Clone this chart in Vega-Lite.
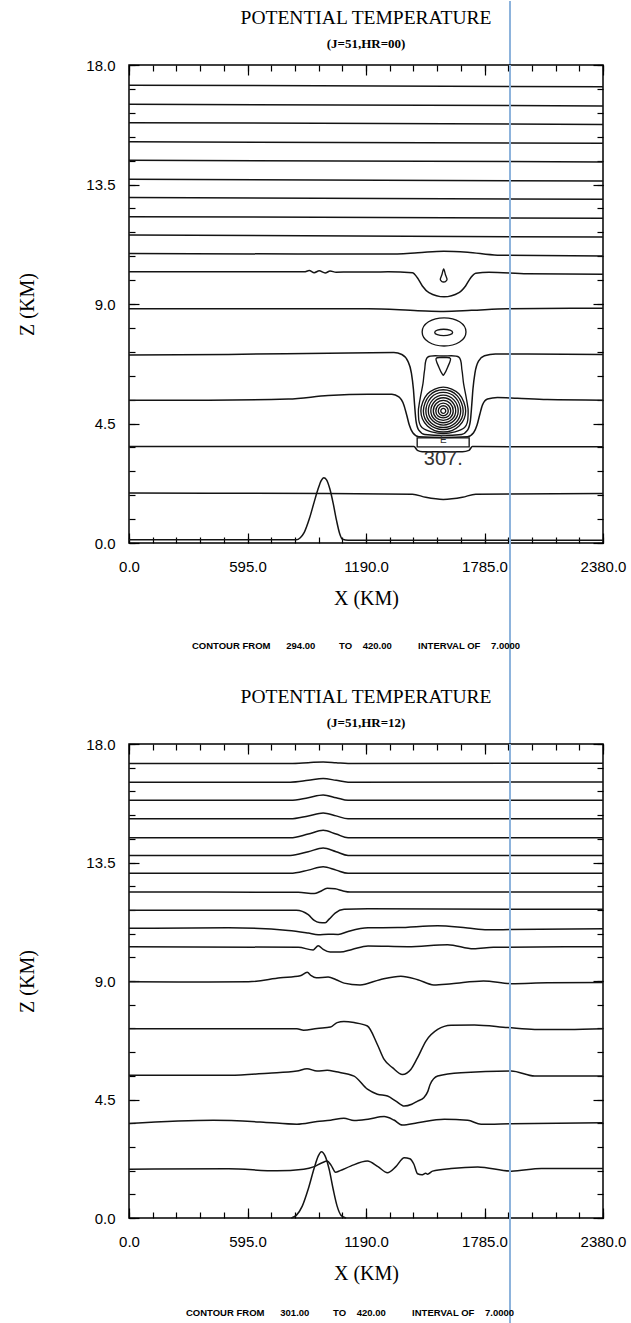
{
  "$schema": "https://vega.github.io/schema/vega-lite/v6.json",
  "background": "white",
  "padding": {"left": 17, "top": 0, "right": 0, "bottom": 0},
  "config": {
    "view": {"stroke": "black", "strokeWidth": 1.5},
    "axis": {"domain": false, "grid": false, "labelColor": "black", "titleColor": "black", "tickColor": "black", "tickWidth": 1.2},
    "title": {"color": "black"}
  },
  "datasets": {
    "top_open": [
      {"c":"t17","x":0,"z":17.24},{"c":"t17","x":2380,"z":17.18},
      {"c":"t16","x":0,"z":16.52},{"c":"t16","x":2380,"z":16.46},
      {"c":"t15","x":0,"z":15.83},{"c":"t15","x":2380,"z":15.76},
      {"c":"t15b","x":0,"z":15.11},{"c":"t15b","x":2380,"z":15.05},
      {"c":"t14","x":0,"z":14.41},{"c":"t14","x":2380,"z":14.35},
      {"c":"t13","x":0,"z":13.70},{"c":"t13","x":2380,"z":13.63},
      {"c":"t13b","x":0,"z":13.01},{"c":"t13b","x":2380,"z":12.94},
      {"c":"t12","x":0,"z":12.29},{"c":"t12","x":2380,"z":12.23},
      {"c":"t11","x":0,"z":11.60},{"c":"t11","x":2380,"z":11.52},
      {"c":"t10b","x":0,"z":10.90},{"c":"t10b","x":1300,"z":10.88},{"c":"t10b","x":1450,"z":10.93},{"c":"t10b","x":1580,"z":10.99},{"c":"t10b","x":1700,"z":10.95},{"c":"t10b","x":1850,"z":10.84},{"c":"t10b","x":2380,"z":10.81},
      {"c":"t10","x":0,"z":10.21},{"c":"t10","x":880,"z":10.21},{"c":"t10","x":905,"z":10.26},{"c":"t10","x":930,"z":10.18},{"c":"t10","x":955,"z":10.25},{"c":"t10","x":985,"z":10.17},{"c":"t10","x":1010,"z":10.24},{"c":"t10","x":1040,"z":10.2},{"c":"t10","x":1300,"z":10.21},{"c":"t10","x":1423,"z":10.18},{"c":"t10","x":1448,"z":9.99},{"c":"t10","x":1473,"z":9.68},{"c":"t10","x":1506,"z":9.43},{"c":"t10","x":1582,"z":9.27},{"c":"t10","x":1657,"z":9.43},{"c":"t10","x":1690,"z":9.68},{"c":"t10","x":1716,"z":9.99},{"c":"t10","x":1741,"z":10.16},{"c":"t10","x":1808,"z":10.2},{"c":"t10","x":2000,"z":10.14},{"c":"t10","x":2380,"z":10.12},
      {"c":"t8","x":0,"z":8.82},{"c":"t8","x":1200,"z":8.82},{"c":"t8","x":1450,"z":8.75},{"c":"t8","x":1580,"z":8.72},{"c":"t8","x":1720,"z":8.76},{"c":"t8","x":1900,"z":8.82},{"c":"t8","x":2380,"z":8.84},
      {"c":"t7","x":0,"z":7.08},{"c":"t7","x":500,"z":7.1},{"c":"t7","x":1000,"z":7.15},{"c":"t7","x":1330,"z":7.17},{"c":"t7","x":1370,"z":7.1},{"c":"t7","x":1400,"z":6.85},{"c":"t7","x":1418,"z":6.4},{"c":"t7","x":1428,"z":5.8},{"c":"t7","x":1434,"z":5.2},{"c":"t7","x":1441,"z":4.6},{"c":"t7","x":1455,"z":4.25},{"c":"t7","x":1485,"z":4.09},{"c":"t7","x":1578,"z":4.05},{"c":"t7","x":1670,"z":4.09},{"c":"t7","x":1700,"z":4.25},{"c":"t7","x":1714,"z":4.6},{"c":"t7","x":1721,"z":5.2},{"c":"t7","x":1727,"z":5.8},{"c":"t7","x":1737,"z":6.4},{"c":"t7","x":1755,"z":6.85},{"c":"t7","x":1785,"z":7.05},{"c":"t7","x":1840,"z":7.12},{"c":"t7","x":2000,"z":7.12},{"c":"t7","x":2380,"z":7.1},
      {"c":"t5","x":0,"z":5.38},{"c":"t5","x":400,"z":5.38},{"c":"t5","x":800,"z":5.42},{"c":"t5","x":1000,"z":5.55},{"c":"t5","x":1200,"z":5.6},{"c":"t5","x":1320,"z":5.6},{"c":"t5","x":1355,"z":5.5},{"c":"t5","x":1380,"z":5.2},{"c":"t5","x":1395,"z":4.8},{"c":"t5","x":1407,"z":4.45},{"c":"t5","x":1425,"z":4.15},{"c":"t5","x":1455,"z":4.0},{"c":"t5","x":1578,"z":3.97},{"c":"t5","x":1700,"z":4.0},{"c":"t5","x":1730,"z":4.15},{"c":"t5","x":1748,"z":4.45},{"c":"t5","x":1760,"z":4.8},{"c":"t5","x":1775,"z":5.2},{"c":"t5","x":1800,"z":5.42},{"c":"t5","x":1850,"z":5.48},{"c":"t5","x":1950,"z":5.45},{"c":"t5","x":2100,"z":5.4},{"c":"t5","x":2380,"z":5.38},
      {"c":"t3","x":0,"z":3.63},{"c":"t3","x":1000,"z":3.63},{"c":"t3","x":1431,"z":3.63},{"c":"t3","x":1448,"z":3.49},{"c":"t3","x":1473,"z":3.44},{"c":"t3","x":1674,"z":3.44},{"c":"t3","x":1707,"z":3.49},{"c":"t3","x":1724,"z":3.63},{"c":"t3","x":2380,"z":3.62},
      {"c":"t1","x":0,"z":1.88},{"c":"t1","x":1000,"z":1.86},{"c":"t1","x":1423,"z":1.84},{"c":"t1","x":1490,"z":1.72},{"c":"t1","x":1578,"z":1.64},{"c":"t1","x":1674,"z":1.72},{"c":"t1","x":1741,"z":1.84},{"c":"t1","x":2380,"z":1.86},
      {"c":"g","x":0,"z":0.12},{"c":"g","x":840,"z":0.12},{"c":"g","x":860,"z":0.2},{"c":"g","x":880,"z":0.4},{"c":"g","x":905,"z":0.9},{"c":"g","x":930,"z":1.55},{"c":"g","x":950,"z":2.05},{"c":"g","x":965,"z":2.35},{"c":"g","x":978,"z":2.46},{"c":"g","x":992,"z":2.38},{"c":"g","x":1008,"z":2.05},{"c":"g","x":1025,"z":1.5},{"c":"g","x":1042,"z":0.85},{"c":"g","x":1058,"z":0.35},{"c":"g","x":1072,"z":0.14},{"c":"g","x":1100,"z":0.1},{"c":"g","x":2380,"z":0.1}
    ],
    "top_closed": [
      {"c":"td","o":0,"x":1580,"z":10.32},{"c":"td","o":1,"x":1589,"z":10.1},{"c":"td","o":2,"x":1597,"z":9.93},{"c":"td","o":3,"x":1590,"z":9.85},{"c":"td","o":4,"x":1580,"z":9.83},{"c":"td","o":5,"x":1570,"z":9.85},{"c":"td","o":6,"x":1563,"z":9.93},{"c":"td","o":7,"x":1571,"z":10.1},
      {"c":"e1","o":0,"x":1692,"z":7.95},{"c":"e1","o":1,"x":1660,"z":8.33},{"c":"e1","o":2,"x":1582,"z":8.48},{"c":"e1","o":3,"x":1504,"z":8.33},{"c":"e1","o":4,"x":1472,"z":7.95},{"c":"e1","o":5,"x":1504,"z":7.57},{"c":"e1","o":6,"x":1582,"z":7.42},{"c":"e1","o":7,"x":1660,"z":7.57},
      {"c":"e2","o":0,"x":1625,"z":7.93},{"c":"e2","o":1,"x":1612,"z":8.015},{"c":"e2","o":2,"x":1580,"z":8.05},{"c":"e2","o":3,"x":1548,"z":8.015},{"c":"e2","o":4,"x":1535,"z":7.93},{"c":"e2","o":5,"x":1548,"z":7.845},{"c":"e2","o":6,"x":1580,"z":7.81},{"c":"e2","o":7,"x":1612,"z":7.845},
      {"c":"tri","o":0,"x":1542,"z":6.95},{"c":"tri","o":1,"x":1578,"z":6.98},{"c":"tri","o":2,"x":1614,"z":6.95},{"c":"tri","o":3,"x":1600,"z":6.62},{"c":"tri","o":4,"x":1582,"z":6.35},{"c":"tri","o":5,"x":1574,"z":6.35},{"c":"tri","o":6,"x":1556,"z":6.62},
      {"c":"bt","o":0,"x":1500,"z":7.0},{"c":"bt","o":1,"x":1578,"z":7.04},{"c":"bt","o":2,"x":1656,"z":7.0},{"c":"bt","o":3,"x":1672,"z":6.5},{"c":"bt","o":4,"x":1680,"z":6.0},{"c":"bt","o":5,"x":1695,"z":5.4},{"c":"bt","o":6,"x":1703,"z":4.9},{"c":"bt","o":7,"x":1685,"z":4.35},{"c":"bt","o":8,"x":1578,"z":4.12},{"c":"bt","o":9,"x":1471,"z":4.35},{"c":"bt","o":10,"x":1453,"z":4.9},{"c":"bt","o":11,"x":1461,"z":5.4},{"c":"bt","o":12,"x":1476,"z":6.0},{"c":"bt","o":13,"x":1484,"z":6.5},
      {"c":"r1","o":0,"x":1590.5,"z":4.97},{"c":"r1","o":1,"x":1586.8,"z":5.04},{"c":"r1","o":2,"x":1578,"z":5.07},{"c":"r1","o":3,"x":1569.2,"z":5.04},{"c":"r1","o":4,"x":1565.5,"z":4.97},{"c":"r1","o":5,"x":1569.2,"z":4.91},{"c":"r1","o":6,"x":1578,"z":4.88},{"c":"r1","o":7,"x":1586.8,"z":4.91},
      {"c":"r2","o":0,"x":1603,"z":4.97},{"c":"r2","o":1,"x":1595.7,"z":5.11},{"c":"r2","o":2,"x":1578,"z":5.17},{"c":"r2","o":3,"x":1560.3,"z":5.11},{"c":"r2","o":4,"x":1553,"z":4.97},{"c":"r2","o":5,"x":1560.3,"z":4.85},{"c":"r2","o":6,"x":1578,"z":4.79},{"c":"r2","o":7,"x":1595.7,"z":4.85},
      {"c":"r3","o":0,"x":1615.5,"z":4.97},{"c":"r3","o":1,"x":1604.5,"z":5.18},{"c":"r3","o":2,"x":1578,"z":5.27},{"c":"r3","o":3,"x":1551.5,"z":5.18},{"c":"r3","o":4,"x":1540.5,"z":4.97},{"c":"r3","o":5,"x":1551.5,"z":4.78},{"c":"r3","o":6,"x":1578,"z":4.71},{"c":"r3","o":7,"x":1604.5,"z":4.78},
      {"c":"r4","o":0,"x":1628,"z":4.97},{"c":"r4","o":1,"x":1613.4,"z":5.25},{"c":"r4","o":2,"x":1578,"z":5.37},{"c":"r4","o":3,"x":1542.6,"z":5.25},{"c":"r4","o":4,"x":1528,"z":4.97},{"c":"r4","o":5,"x":1542.6,"z":4.72},{"c":"r4","o":6,"x":1578,"z":4.62},{"c":"r4","o":7,"x":1613.4,"z":4.72},
      {"c":"r5","o":0,"x":1640.5,"z":4.97},{"c":"r5","o":1,"x":1622.2,"z":5.32},{"c":"r5","o":2,"x":1578,"z":5.47},{"c":"r5","o":3,"x":1533.8,"z":5.32},{"c":"r5","o":4,"x":1515.5,"z":4.97},{"c":"r5","o":5,"x":1533.8,"z":4.66},{"c":"r5","o":6,"x":1578,"z":4.53},{"c":"r5","o":7,"x":1622.2,"z":4.66},
      {"c":"r6","o":0,"x":1653,"z":4.97},{"c":"r6","o":1,"x":1631,"z":5.39},{"c":"r6","o":2,"x":1578,"z":5.57},{"c":"r6","o":3,"x":1525,"z":5.39},{"c":"r6","o":4,"x":1503,"z":4.97},{"c":"r6","o":5,"x":1525,"z":4.6},{"c":"r6","o":6,"x":1578,"z":4.44},{"c":"r6","o":7,"x":1631,"z":4.6},
      {"c":"r7","o":0,"x":1665.5,"z":4.97},{"c":"r7","o":1,"x":1639.9,"z":5.47},{"c":"r7","o":2,"x":1578,"z":5.67},{"c":"r7","o":3,"x":1516.1,"z":5.47},{"c":"r7","o":4,"x":1490.5,"z":4.97},{"c":"r7","o":5,"x":1516.1,"z":4.53},{"c":"r7","o":6,"x":1578,"z":4.35},{"c":"r7","o":7,"x":1639.9,"z":4.53},
      {"c":"r8","o":0,"x":1678,"z":4.97},{"c":"r8","o":1,"x":1648.7,"z":5.54},{"c":"r8","o":2,"x":1578,"z":5.77},{"c":"r8","o":3,"x":1507.3,"z":5.54},{"c":"r8","o":4,"x":1478,"z":4.97},{"c":"r8","o":5,"x":1507.3,"z":4.47},{"c":"r8","o":6,"x":1578,"z":4.27},{"c":"r8","o":7,"x":1648.7,"z":4.47},
      {"c":"r9","o":0,"x":1690.5,"z":4.97},{"c":"r9","o":1,"x":1657.5,"z":5.61},{"c":"r9","o":2,"x":1578,"z":5.87},{"c":"r9","o":3,"x":1498.5,"z":5.61},{"c":"r9","o":4,"x":1465.5,"z":4.97},{"c":"r9","o":5,"x":1498.5,"z":4.41},{"c":"r9","o":6,"x":1578,"z":4.18},{"c":"r9","o":7,"x":1657.5,"z":4.41}
    ],
    "top_box": [{"x":1447,"x2":1708,"z":3.62,"z2":3.96}],
    "top_labels": [{"x":1578,"z":3.18,"label":"307.","s":"big"},{"x":1578,"z":3.88,"label":"E","s":"small"}],
    "blue": [{"x":1913}],
    "bot_open": [
      {"c":"b17","x":0,"z":17.26},{"c":"b17","x":810,"z":17.26},{"c":"b17","x":900,"z":17.29},{"c":"b17","x":975,"z":17.32},{"c":"b17","x":1040,"z":17.29},{"c":"b17","x":1100,"z":17.26},{"c":"b17","x":2380,"z":17.27},
      {"c":"b16","x":0,"z":16.55},{"c":"b16","x":810,"z":16.55},{"c":"b16","x":900,"z":16.62},{"c":"b16","x":975,"z":16.69},{"c":"b16","x":1040,"z":16.62},{"c":"b16","x":1100,"z":16.55},{"c":"b16","x":2380,"z":16.56},
      {"c":"b15","x":0,"z":15.86},{"c":"b15","x":810,"z":15.86},{"c":"b15","x":900,"z":15.96},{"c":"b15","x":975,"z":16.06},{"c":"b15","x":1040,"z":15.96},{"c":"b15","x":1100,"z":15.86},{"c":"b15","x":2380,"z":15.86},
      {"c":"b15b","x":0,"z":15.16},{"c":"b15b","x":810,"z":15.16},{"c":"b15b","x":900,"z":15.27},{"c":"b15b","x":975,"z":15.38},{"c":"b15b","x":1040,"z":15.27},{"c":"b15b","x":1100,"z":15.16},{"c":"b15b","x":2380,"z":15.16},
      {"c":"b14","x":0,"z":14.44},{"c":"b14","x":810,"z":14.44},{"c":"b14","x":900,"z":14.58},{"c":"b14","x":975,"z":14.72},{"c":"b14","x":1040,"z":14.58},{"c":"b14","x":1100,"z":14.44},{"c":"b14","x":2380,"z":14.44},
      {"c":"b13","x":0,"z":13.77},{"c":"b13","x":810,"z":13.77},{"c":"b13","x":900,"z":13.91},{"c":"b13","x":975,"z":14.05},{"c":"b13","x":1040,"z":13.91},{"c":"b13","x":1100,"z":13.77},{"c":"b13","x":2380,"z":13.77},
      {"c":"b13b","x":0,"z":13.09},{"c":"b13b","x":810,"z":13.09},{"c":"b13b","x":900,"z":13.21},{"c":"b13b","x":975,"z":13.34},{"c":"b13b","x":1040,"z":13.21},{"c":"b13b","x":1100,"z":13.09},{"c":"b13b","x":2380,"z":13.09},
      {"c":"b12","x":0,"z":12.38},{"c":"b12","x":850,"z":12.37},{"c":"b12","x":930,"z":12.32},{"c":"b12","x":960,"z":12.4},{"c":"b12","x":995,"z":12.52},{"c":"b12","x":1035,"z":12.5},{"c":"b12","x":1075,"z":12.42},{"c":"b12","x":1110,"z":12.38},{"c":"b12","x":2380,"z":12.38},
      {"c":"b11","x":0,"z":11.69},{"c":"b11","x":840,"z":11.69},{"c":"b11","x":900,"z":11.52},{"c":"b11","x":930,"z":11.3},{"c":"b11","x":955,"z":11.22},{"c":"b11","x":985,"z":11.21},{"c":"b11","x":1005,"z":11.35},{"c":"b11","x":1035,"z":11.58},{"c":"b11","x":1080,"z":11.72},{"c":"b11","x":1200,"z":11.74},{"c":"b11","x":2380,"z":11.72},
      {"c":"b11b","x":0,"z":11.0},{"c":"b11b","x":500,"z":11.02},{"c":"b11b","x":800,"z":10.92},{"c":"b11b","x":900,"z":10.82},{"c":"b11b","x":950,"z":10.76},{"c":"b11b","x":1000,"z":10.78},{"c":"b11b","x":1050,"z":10.77},{"c":"b11b","x":1100,"z":10.88},{"c":"b11b","x":1200,"z":11.02},{"c":"b11b","x":1350,"z":11.03},{"c":"b11b","x":1550,"z":11.1},{"c":"b11b","x":1700,"z":11.01},{"c":"b11b","x":1800,"z":10.95},{"c":"b11b","x":2380,"z":10.98},
      {"c":"b10","x":0,"z":10.3},{"c":"b10","x":850,"z":10.28},{"c":"b10","x":925,"z":10.18},{"c":"b10","x":950,"z":10.34},{"c":"b10","x":975,"z":10.2},{"c":"b10","x":1010,"z":10.1},{"c":"b10","x":1060,"z":10.1},{"c":"b10","x":1120,"z":10.2},{"c":"b10","x":1200,"z":10.33},{"c":"b10","x":1400,"z":10.3},{"c":"b10","x":1600,"z":10.38},{"c":"b10","x":1730,"z":10.22},{"c":"b10","x":1830,"z":10.28},{"c":"b10","x":2380,"z":10.3},
      {"c":"b9","x":0,"z":8.97},{"c":"b9","x":400,"z":8.96},{"c":"b9","x":600,"z":8.97},{"c":"b9","x":760,"z":9.12},{"c":"b9","x":860,"z":9.2},{"c":"b9","x":895,"z":9.33},{"c":"b9","x":915,"z":9.2},{"c":"b9","x":940,"z":9.12},{"c":"b9","x":1000,"z":9.15},{"c":"b9","x":1040,"z":9.05},{"c":"b9","x":1080,"z":8.92},{"c":"b9","x":1160,"z":8.85},{"c":"b9","x":1260,"z":9.05},{"c":"b9","x":1365,"z":9.18},{"c":"b9","x":1450,"z":9.05},{"c":"b9","x":1530,"z":8.85},{"c":"b9","x":1620,"z":8.9},{"c":"b9","x":1780,"z":9.0},{"c":"b9","x":1920,"z":8.9},{"c":"b9","x":2100,"z":8.93},{"c":"b9","x":2380,"z":8.94},
      {"c":"b7","x":0,"z":7.19},{"c":"b7","x":843,"z":7.19},{"c":"b7","x":877,"z":7.13},{"c":"b7","x":944,"z":7.2},{"c":"b7","x":1012,"z":7.25},{"c":"b7","x":1045,"z":7.42},{"c":"b7","x":1079,"z":7.46},{"c":"b7","x":1130,"z":7.42},{"c":"b7","x":1197,"z":7.29},{"c":"b7","x":1247,"z":6.59},{"c":"b7","x":1281,"z":6.02},{"c":"b7","x":1323,"z":5.71},{"c":"b7","x":1373,"z":5.45},{"c":"b7","x":1415,"z":5.64},{"c":"b7","x":1449,"z":6.09},{"c":"b7","x":1491,"z":6.72},{"c":"b7","x":1550,"z":7.16},{"c":"b7","x":1617,"z":7.32},{"c":"b7","x":1734,"z":7.33},{"c":"b7","x":1903,"z":7.23},{"c":"b7","x":2037,"z":7.16},{"c":"b7","x":2205,"z":7.16},{"c":"b7","x":2380,"z":7.19},
      {"c":"b5","x":0,"z":5.42},{"c":"b5","x":507,"z":5.42},{"c":"b5","x":700,"z":5.5},{"c":"b5","x":843,"z":5.58},{"c":"b5","x":894,"z":5.67},{"c":"b5","x":944,"z":5.58},{"c":"b5","x":995,"z":5.61},{"c":"b5","x":1040,"z":5.55},{"c":"b5","x":1130,"z":5.39},{"c":"b5","x":1197,"z":4.89},{"c":"b5","x":1247,"z":4.7},{"c":"b5","x":1298,"z":4.63},{"c":"b5","x":1340,"z":4.44},{"c":"b5","x":1382,"z":4.25},{"c":"b5","x":1420,"z":4.32},{"c":"b5","x":1449,"z":4.44},{"c":"b5","x":1480,"z":4.57},{"c":"b5","x":1500,"z":4.8},{"c":"b5","x":1512,"z":5.07},{"c":"b5","x":1550,"z":5.39},{"c":"b5","x":1667,"z":5.52},{"c":"b5","x":1919,"z":5.58},{"c":"b5","x":2037,"z":5.39},{"c":"b5","x":2380,"z":5.39},
      {"c":"b3","x":0,"z":3.59},{"c":"b3","x":423,"z":3.71},{"c":"b3","x":676,"z":3.64},{"c":"b3","x":843,"z":3.56},{"c":"b3","x":944,"z":3.66},{"c":"b3","x":1012,"z":3.71},{"c":"b3","x":1079,"z":3.79},{"c":"b3","x":1130,"z":3.7},{"c":"b3","x":1200,"z":3.75},{"c":"b3","x":1281,"z":3.85},{"c":"b3","x":1330,"z":3.72},{"c":"b3","x":1373,"z":3.53},{"c":"b3","x":1449,"z":3.62},{"c":"b3","x":1583,"z":3.75},{"c":"b3","x":1701,"z":3.71},{"c":"b3","x":1768,"z":3.56},{"c":"b3","x":1919,"z":3.58},{"c":"b3","x":2380,"z":3.62},
      {"c":"b1","x":0,"z":1.85},{"c":"b1","x":500,"z":1.87},{"c":"b1","x":743,"z":1.79},{"c":"b1","x":877,"z":1.85},{"c":"b1","x":930,"z":1.95},{"c":"b1","x":970,"z":2.1},{"c":"b1","x":995,"z":2.16},{"c":"b1","x":1015,"z":2.0},{"c":"b1","x":1037,"z":1.74},{"c":"b1","x":1060,"z":1.8},{"c":"b1","x":1113,"z":1.97},{"c":"b1","x":1197,"z":2.16},{"c":"b1","x":1250,"z":1.95},{"c":"b1","x":1298,"z":1.72},{"c":"b1","x":1340,"z":1.95},{"c":"b1","x":1382,"z":2.29},{"c":"b1","x":1410,"z":2.25},{"c":"b1","x":1430,"z":2.05},{"c":"b1","x":1449,"z":1.68},{"c":"b1","x":1470,"z":1.64},{"c":"b1","x":1490,"z":1.7},{"c":"b1","x":1499,"z":1.66},{"c":"b1","x":1524,"z":1.78},{"c":"b1","x":1617,"z":1.88},{"c":"b1","x":1751,"z":1.94},{"c":"b1","x":1919,"z":1.78},{"c":"b1","x":2071,"z":1.88},{"c":"b1","x":2380,"z":1.88},
      {"c":"bm","x":815,"z":0.0},{"c":"bm","x":840,"z":0.1},{"c":"bm","x":870,"z":0.45},{"c":"bm","x":900,"z":1.1},{"c":"bm","x":930,"z":1.9},{"c":"bm","x":950,"z":2.35},{"c":"bm","x":966,"z":2.52},{"c":"bm","x":985,"z":2.35},{"c":"bm","x":1005,"z":1.85},{"c":"bm","x":1025,"z":1.1},{"c":"bm","x":1045,"z":0.45},{"c":"bm","x":1065,"z":0.1},{"c":"bm","x":1090,"z":0.0}
    ],
    "note_top": [{"note":"CONTOUR FROM\u00a0\u00a0\u00a0\u00a0\u00a0\u00a0294.00\u00a0\u00a0\u00a0\u00a0\u00a0\u00a0\u00a0\u00a0\u00a0TO\u00a0\u00a0\u00a0\u00a0420.00\u00a0\u00a0\u00a0\u00a0\u00a0\u00a0\u00a0\u00a0\u00a0\u00a0INTERVAL OF\u00a0\u00a0\u00a0\u00a07.0000"}],
    "note_bot": [{"note":"CONTOUR FROM\u00a0\u00a0\u00a0\u00a0\u00a0\u00a0301.00\u00a0\u00a0\u00a0\u00a0\u00a0\u00a0\u00a0\u00a0\u00a0TO\u00a0\u00a0\u00a0\u00a0420.00\u00a0\u00a0\u00a0\u00a0\u00a0\u00a0\u00a0\u00a0\u00a0\u00a0INTERVAL OF\u00a0\u00a0\u00a0\u00a07.0000"}]
  },
  "bounds": "flush",
  "spacing": 0,
  "vconcat": [
    {
      "width": 474,
      "height": 64,
      "view": {"stroke": null},
      "data": {"name": "blue"},
      "mark": {"type": "rule", "color": "#8db3dc", "strokeWidth": 2},
      "encoding": {"x": {"field": "x", "type": "quantitative", "scale": {"domain": [0, 2380], "nice": false, "zero": false}, "axis": null}}
    },
    {
      "width": 474,
      "height": 478,
      "title": {"text": "POTENTIAL TEMPERATURE", "subtitle": "(J=51,HR=00)", "anchor": "middle", "font": "Liberation Serif", "fontSize": 19.5, "fontWeight": "normal", "subtitleFont": "Liberation Serif", "subtitleFontSize": 13, "subtitleFontWeight": "bold", "subtitleColor": "black", "subtitlePadding": 10, "offset": 6},
      "resolve": {"axis": {"x": "independent", "y": "independent"}},
      "layer": [
        {
          "data": {"name": "top_open"},
          "mark": {"type": "line", "interpolate": "monotone", "color": "#141414", "strokeWidth": 1.5},
          "encoding": {
            "x": {"field": "x", "type": "quantitative", "scale": {"domain": [0, 2380], "nice": false, "zero": false},
              "axis": {"orient": "bottom", "values": [0,119,238,357,476,595,714,833,952,1071,1190,1309,1428,1547,1666,1785,1904,2023,2142,2261,2380], "labelExpr": "datum.value % 595 == 0 ? format(datum.value, '.1f') : ''", "tickSize": -6, "labelFont": "Liberation Sans", "labelFontSize": 15, "labelPadding": 22, "labelFlush": false, "labelOverlap": false, "title": "X (KM)", "titleFont": "Liberation Serif", "titleFontSize": 20, "titleFontWeight": "normal", "titlePadding": 14}},
            "y": {"field": "z", "type": "quantitative", "scale": {"domain": [0, 18], "nice": false, "zero": false},
              "axis": {"orient": "left", "values": [0,0.9,1.8,2.7,3.6,4.5,5.4,6.3,7.2,8.1,9,9.9,10.8,11.7,12.6,13.5,14.4,15.3,16.2,17.1,18], "labelExpr": "abs(datum.value/4.5 - round(datum.value/4.5)) < 0.01 ? format(datum.value, '.1f') : ''", "tickSize": -6, "labelFont": "Liberation Sans", "labelFontSize": 15, "labelPadding": 20, "labelFlush": false, "labelOverlap": false, "title": "Z (KM)", "titleFont": "Liberation Serif", "titleFontSize": 20, "titleFontWeight": "normal", "titlePadding": 48}},
            "detail": {"field": "c"}
          }
        },
        {
          "data": {"name": "top_closed"},
          "mark": {"type": "line", "interpolate": "cardinal-closed", "color": "#141414", "strokeWidth": 1.35},
          "encoding": {
            "x": {"field": "x", "type": "quantitative", "scale": {"domain": [0, 2380], "nice": false, "zero": false},
              "axis": {"orient": "top", "values": [0,119,238,357,476,595,714,833,952,1071,1190,1309,1428,1547,1666,1785,1904,2023,2142,2261,2380], "labels": false, "tickSize": -6, "title": null}},
            "y": {"field": "z", "type": "quantitative", "scale": {"domain": [0, 18], "nice": false, "zero": false},
              "axis": {"orient": "right", "values": [0,0.9,1.8,2.7,3.6,4.5,5.4,6.3,7.2,8.1,9,9.9,10.8,11.7,12.6,13.5,14.4,15.3,16.2,17.1,18], "labels": false, "tickSize": -6, "title": null}},
            "detail": {"field": "c"},
            "order": {"field": "o", "type": "quantitative"}
          }
        },
        {
          "data": {"name": "top_box"},
          "mark": {"type": "rect", "fill": "transparent", "stroke": "#141414", "strokeWidth": 1.35},
          "encoding": {
            "x": {"field": "x", "type": "quantitative", "axis": {"orient": "top", "values": [0,595,1190,1785,2380], "labels": false, "tickSize": -10, "title": null}},
            "x2": {"field": "x2"},
            "y": {"field": "z", "type": "quantitative", "axis": {"orient": "right", "values": [0,4.5,9,13.5,18], "labels": false, "tickSize": -10, "title": null}},
            "y2": {"field": "z2"}
          }
        },
        {
          "data": {"name": "top_labels"},
          "mark": {"type": "text", "font": "Liberation Sans", "color": "#333333", "align": "center", "baseline": "middle"},
          "encoding": {
            "x": {"field": "x", "type": "quantitative", "axis": {"orient": "bottom", "values": [0,595,1190,1785,2380], "labels": false, "tickSize": -10, "title": null}},
            "y": {"field": "z", "type": "quantitative", "axis": {"orient": "left", "values": [0,4.5,9,13.5,18], "labels": false, "tickSize": -10, "title": null}},
            "text": {"field": "label"},
            "size": {"field": "s", "type": "nominal", "scale": {"domain": ["big", "small"], "range": [20, 10]}, "legend": null}
          }
        },
        {
          "data": {"name": "blue"},
          "mark": {"type": "rule", "color": "#8db3dc", "strokeWidth": 2},
          "encoding": {"x": {"field": "x", "type": "quantitative", "axis": null}}
        }
      ]
    },
    {
      "width": 474,
      "height": 201,
      "view": {"stroke": null},
      "layer": [
        {
          "data": {"name": "blue"},
          "mark": {"type": "rule", "color": "#8db3dc", "strokeWidth": 2},
          "encoding": {"x": {"field": "x", "type": "quantitative", "scale": {"domain": [0, 2380], "nice": false, "zero": false}, "axis": null}}
        },
        {
          "data": {"name": "note_top"},
          "mark": {"type": "text", "font": "Liberation Sans", "fontSize": 9.5, "fontWeight": "bold", "color": "black", "dx": -10, "dy": 2},
          "encoding": {"text": {"field": "note"}}
        }
      ]
    },
    {
      "width": 474,
      "height": 474,
      "title": {"text": "POTENTIAL TEMPERATURE", "subtitle": "(J=51,HR=12)", "anchor": "middle", "font": "Liberation Serif", "fontSize": 19.5, "fontWeight": "normal", "subtitleFont": "Liberation Serif", "subtitleFontSize": 13, "subtitleFontWeight": "bold", "subtitleColor": "black", "subtitlePadding": 10, "offset": 6},
      "resolve": {"axis": {"x": "independent", "y": "independent"}},
      "layer": [
        {
          "data": {"name": "bot_open"},
          "mark": {"type": "line", "interpolate": "monotone", "color": "#141414", "strokeWidth": 1.5},
          "encoding": {
            "x": {"field": "x", "type": "quantitative", "scale": {"domain": [0, 2380], "nice": false, "zero": false},
              "axis": {"orient": "bottom", "values": [0,119,238,357,476,595,714,833,952,1071,1190,1309,1428,1547,1666,1785,1904,2023,2142,2261,2380], "labelExpr": "datum.value % 595 == 0 ? format(datum.value, '.1f') : ''", "tickSize": -6, "labelFont": "Liberation Sans", "labelFontSize": 15, "labelPadding": 22, "labelFlush": false, "labelOverlap": false, "title": "X (KM)", "titleFont": "Liberation Serif", "titleFontSize": 20, "titleFontWeight": "normal", "titlePadding": 14}},
            "y": {"field": "z", "type": "quantitative", "scale": {"domain": [0, 18], "nice": false, "zero": false},
              "axis": {"orient": "left", "values": [0,0.9,1.8,2.7,3.6,4.5,5.4,6.3,7.2,8.1,9,9.9,10.8,11.7,12.6,13.5,14.4,15.3,16.2,17.1,18], "labelExpr": "abs(datum.value/4.5 - round(datum.value/4.5)) < 0.01 ? format(datum.value, '.1f') : ''", "tickSize": -6, "labelFont": "Liberation Sans", "labelFontSize": 15, "labelPadding": 20, "labelFlush": false, "labelOverlap": false, "title": "Z (KM)", "titleFont": "Liberation Serif", "titleFontSize": 20, "titleFontWeight": "normal", "titlePadding": 48}},
            "detail": {"field": "c"}
          }
        },
        {
          "data": {"name": "bot_open"},
          "mark": {"type": "line", "interpolate": "monotone", "strokeOpacity": 0},
          "encoding": {
            "x": {"field": "x", "type": "quantitative", "scale": {"domain": [0, 2380], "nice": false, "zero": false},
              "axis": {"orient": "top", "values": [0,119,238,357,476,595,714,833,952,1071,1190,1309,1428,1547,1666,1785,1904,2023,2142,2261,2380], "labels": false, "tickSize": -6, "title": null}},
            "y": {"field": "z", "type": "quantitative", "scale": {"domain": [0, 18], "nice": false, "zero": false},
              "axis": {"orient": "right", "values": [0,0.9,1.8,2.7,3.6,4.5,5.4,6.3,7.2,8.1,9,9.9,10.8,11.7,12.6,13.5,14.4,15.3,16.2,17.1,18], "labels": false, "tickSize": -6, "title": null}},
            "detail": {"field": "c"}
          }
        },
        {
          "data": {"name": "bot_open"},
          "mark": {"type": "line", "interpolate": "monotone", "strokeOpacity": 0},
          "encoding": {
            "x": {"field": "x", "type": "quantitative", "axis": {"orient": "top", "values": [0,595,1190,1785,2380], "labels": false, "tickSize": -10, "title": null}},
            "y": {"field": "z", "type": "quantitative", "axis": {"orient": "right", "values": [0,4.5,9,13.5,18], "labels": false, "tickSize": -10, "title": null}},
            "detail": {"field": "c"}
          }
        },
        {
          "data": {"name": "bot_open"},
          "mark": {"type": "line", "interpolate": "monotone", "strokeOpacity": 0},
          "encoding": {
            "x": {"field": "x", "type": "quantitative", "axis": {"orient": "bottom", "values": [0,595,1190,1785,2380], "labels": false, "tickSize": -10, "title": null}},
            "y": {"field": "z", "type": "quantitative", "axis": {"orient": "left", "values": [0,4.5,9,13.5,18], "labels": false, "tickSize": -10, "title": null}},
            "detail": {"field": "c"}
          }
        },
        {
          "data": {"name": "blue"},
          "mark": {"type": "rule", "color": "#8db3dc", "strokeWidth": 2},
          "encoding": {"x": {"field": "x", "type": "quantitative", "axis": null}}
        }
      ]
    },
    {
      "width": 474,
      "height": 106,
      "view": {"stroke": null},
      "layer": [
        {
          "data": {"name": "blue"},
          "mark": {"type": "rule", "color": "#8db3dc", "strokeWidth": 2},
          "encoding": {"x": {"field": "x", "type": "quantitative", "scale": {"domain": [0, 2380], "nice": false, "zero": false}, "axis": null}}
        },
        {
          "data": {"name": "note_bot"},
          "mark": {"type": "text", "font": "Liberation Sans", "fontSize": 9.5, "fontWeight": "bold", "color": "black", "dx": -16, "dy": 42},
          "encoding": {"text": {"field": "note"}}
        }
      ]
    }
  ]
}
